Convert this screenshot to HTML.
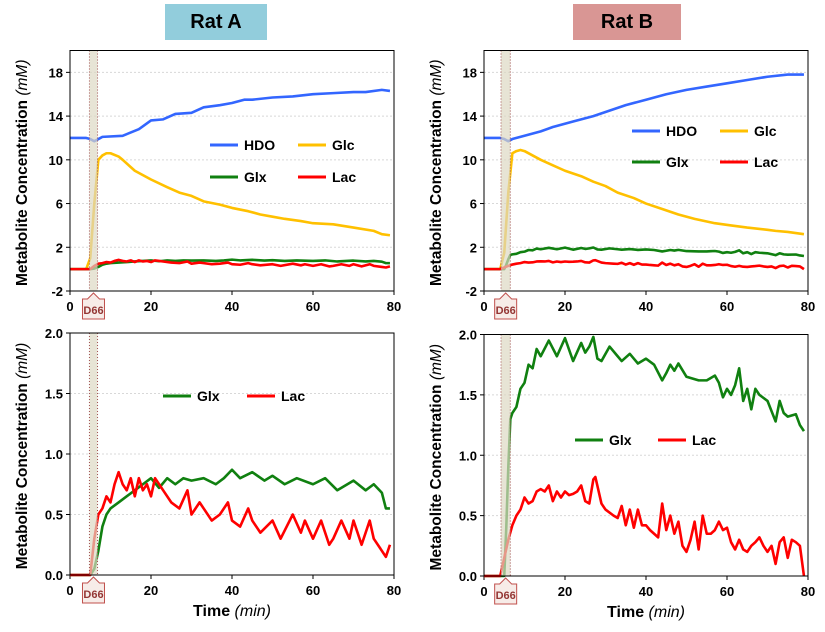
<!DOCTYPE html>
<html><head><meta charset="utf-8"><style>
body{margin:0;background:#fff;width:825px;height:632px;overflow:hidden;font-family:"Liberation Sans",Arial,sans-serif}
.t{position:absolute;font-weight:bold;font-size:20px;text-align:center;line-height:36px}
</style></head><body>
<div class="t" style="left:165px;top:4px;width:102px;background:#92CDDC">Rat A</div>
<div class="t" style="left:573px;top:4px;width:108px;background:#D99694">Rat B</div>
<svg id="s" width="825" height="632" style="position:absolute;left:0;top:0"></svg>
<script>
// Rat A data
const aHdoT=[0,4,5,6,7,8,13,17,20,23,26,30,33,37,40,43,45,50,55,60,65,70,73,77,79];
const aHdoV=[12,12,11.9,11.7,11.9,12.1,12.2,12.8,13.6,13.7,14.2,14.3,14.8,15,15.2,15.5,15.5,15.7,15.8,16,16.1,16.2,16.2,16.4,16.3];
const aGlcT=[0,4,5,6,7,8,9,10,12,13,16,18,20,24,27,30,33,37,40,44,47,50,53,57,60,65,70,75,77,79];
const aGlcV=[0,0,1,6,10,10.4,10.6,10.6,10.3,10,9,8.6,8.2,7.5,7,6.7,6.2,5.9,5.6,5.3,5,4.8,4.6,4.4,4.2,4.1,3.8,3.5,3.2,3.1];
const aGlxT=[0,5,6,7,8,9,10,12,14,16,18,20,22,24,26,28,30,33,36,38,40,42,45,48,50,53,56,60,63,66,70,73,75,77,78,79];
const aGlxV=[0,0,0.05,0.2,0.4,0.5,0.55,0.6,0.65,0.7,0.75,0.8,0.72,0.8,0.75,0.8,0.78,0.8,0.75,0.8,0.87,0.8,0.85,0.78,0.82,0.75,0.8,0.75,0.8,0.7,0.78,0.7,0.75,0.68,0.55,0.55];
const aLacT=[0,5,6,7,8,9,10,11,12,13,14,15,16,17,18,19,20,21,22,23,25,27,29,30,32,33,35,37,39,40,42,44,45,47,50,52,55,57,58,60,62,64,65,67,69,70,72,74,75,77,78,79];
const aLacV=[0,0,0.3,0.5,0.55,0.65,0.6,0.75,0.85,0.75,0.7,0.8,0.65,0.8,0.7,0.75,0.65,0.8,0.75,0.7,0.6,0.55,0.7,0.5,0.6,0.55,0.45,0.5,0.6,0.45,0.4,0.55,0.45,0.35,0.45,0.3,0.5,0.35,0.45,0.3,0.45,0.25,0.3,0.45,0.3,0.45,0.25,0.45,0.3,0.2,0.15,0.25];
// Rat B data
const bHdoT=[0,4,5,6,7,10,14,17,22,27,31,35,40,45,50,55,60,65,70,75,79];
const bHdoV=[12,12,11.9,11.7,11.9,12.2,12.6,13,13.5,14,14.5,15,15.5,16,16.4,16.7,17,17.3,17.6,17.8,17.8];
const bGlcT=[0,4,5,6,7,8,9,10,12,14,17,20,24,27,30,33,37,40,44,48,52,57,61,65,70,72,75,79];
const bGlcV=[0,0,1.5,7,10.6,10.8,10.9,10.8,10.4,10,9.5,9,8.5,8,7.6,7,6.5,6,5.5,5,4.6,4.2,4,3.8,3.6,3.5,3.4,3.2];
const bGlxT=[0,5,5.5,6,6.5,7,8,9,10,11,12,13,14,16,18,20,22,24,25,26,27,28,29,31,33,34,36,38,40,42,44,45,46,47,48,50,53,55,56,57,58,59,60,61,62,63,64,65,66,67,68,70,72,73,74,75,77,78,79];
const bGlxV=[0,0,0.4,0.9,1.3,1.35,1.4,1.55,1.6,1.75,1.72,1.88,1.82,1.95,1.82,1.97,1.78,1.93,1.85,1.9,1.98,1.8,1.78,1.9,1.82,1.78,1.84,1.76,1.8,1.75,1.62,1.68,1.75,1.7,1.76,1.65,1.62,1.62,1.64,1.66,1.6,1.48,1.55,1.5,1.58,1.72,1.45,1.55,1.38,1.55,1.5,1.45,1.28,1.45,1.35,1.32,1.34,1.25,1.2];
const bLacT=[0,4,5,6,7,8,9,10,11,12,13,14,15,16,17,18,19,20,21,22,23,24,25,26,27,27.5,29,30,32,33,34,35,36,37,38,39,40,41,42,43,44,45,46,47,48,49,50,51,52,53,54,55,56,57,58,59,60,61,62,63,64,65,66,67,68,69,70,71,72,73,74,75,76,77,78,79];
const bLacV=[0,0,0.15,0.3,0.42,0.5,0.55,0.65,0.6,0.62,0.7,0.72,0.7,0.75,0.62,0.7,0.65,0.7,0.67,0.68,0.7,0.75,0.62,0.6,0.8,0.82,0.6,0.55,0.5,0.48,0.58,0.42,0.55,0.4,0.55,0.42,0.42,0.38,0.35,0.32,0.6,0.38,0.5,0.35,0.45,0.25,0.2,0.3,0.45,0.22,0.5,0.35,0.35,0.38,0.45,0.38,0.4,0.28,0.22,0.3,0.22,0.2,0.25,0.28,0.32,0.25,0.2,0.25,0.1,0.28,0.32,0.15,0.3,0.28,0.25,0];
const topTicks=[-2,2,6,10,14,18];
const botTicks=[0.0,0.5,1.0,1.5,2.0];
const xTicks=[0,20,40,60,80];
const NS='http://www.w3.org/2000/svg';
const svg=document.getElementById('s');
function el(tag,attrs,parent){const e=document.createElementNS(NS,tag);for(const k in attrs)e.setAttribute(k,attrs[k]);(parent||svg).appendChild(e);return e;}
function panel(id,x0,x1,y0,y1,ymin,ymax,ticks,dec,series,legend,shade,timeLabel){
  const g=el('g',{});
  
  
  const X=t=>x0+(t/80)*(x1-x0), Y=v=>y0-(v-ymin)/(ymax-ymin)*(y0-y1);
  ticks.forEach(v=>{
    if(v!==ymin){const l=el('line',{x1:x0,x2:x1,y1:Y(v),y2:Y(v),stroke:'#d8d8d8','stroke-dasharray':'2,2'},g);}
    const tx=el('text',{x:x0-7,y:Y(v)+5,'text-anchor':'end','font-size':'13','font-weight':'bold'},g);tx.textContent=v.toFixed(dec);
    
    el('line',{x1:x0-4,x2:x0,y1:Y(v),y2:Y(v),stroke:'#000'},g);
  });
  xTicks.forEach(t=>{
    const tx=el('text',{x:X(t),y:y0+20,'text-anchor':'middle','font-size':'13','font-weight':'bold'},g);tx.textContent=t;
    
    el('line',{x1:X(t),x2:X(t),y1:y0,y2:y0+4,stroke:'#000'},g);
  });
  series.forEach(s=>{
    const p=el('polyline',{points:s.t.map((t,i)=>X(t)+','+Y(s.v[i])).join(' '),fill:'none',stroke:s.c,'stroke-width':2.6,'stroke-linejoin':'round'},g);
    
  });
  const sh=el('rect',{x:X(shade[0]),y:y1,width:X(shade[1])-X(shade[0]),height:y0-y1,fill:'#ddd9c3','fill-opacity':0.7},g);
  
  [shade[0],shade[1]].forEach(t=>el('line',{x1:X(t),x2:X(t),y1:y1,y2:y0,stroke:'#a05050','stroke-dasharray':'1,2'},g));
  const fr=el('rect',{x:x0,y:y1,width:x1-x0,height:y0-y1,fill:'none',stroke:'#000'},g);
  
  legend.forEach(L=>{
    const lg=el('g',{},g);
    el('line',{x1:L.x,x2:L.x+28,y1:L.y,y2:L.y,stroke:L.c,'stroke-width':3},lg);
    const tx=el('text',{x:L.x+34,y:L.y+5,'font-size':'14','font-weight':'bold'},lg);tx.textContent=L.n;
  });
  const mx=(X(shade[0])+X(shade[1]))/2;
  const mk=el('g',{},g);
  el('path',{d:`M${mx} ${y0+2} L${mx+6} ${y0+8} L${mx+11} ${y0+8} L${mx+11} ${y0+28} L${mx-11} ${y0+28} L${mx-11} ${y0+8} L${mx-6} ${y0+8} Z`,fill:'#f7ece8',stroke:'#c0504d'},mk);
  const dt=el('text',{x:mx,y:y0+23,'text-anchor':'middle','font-size':'11','font-weight':'bold',fill:'#943634'},mk);dt.textContent='D66';
  const cy=(y0+y1)/2;
  const yl=el('text',{x:0,y:0,transform:`translate(${x0-43},${cy+2}) rotate(-90)`,'text-anchor':'middle','font-size':'15.5','font-weight':'bold'},g);
  yl.innerHTML='Metabolite Concentration <tspan font-style="italic" font-weight="normal">(mM)</tspan>';
  
  if(timeLabel){const xl=el('text',{x:(x0+x1)/2,y:y0+41,'text-anchor':'middle','font-size':'16','font-weight':'bold'},g);
    xl.innerHTML='Time <tspan font-style="italic" font-weight="normal">(min)</tspan>';
    }
}
const B='#3366ff',Y='#ffc000',G='#108010',R='#ff0000';
panel('panel-rat-a-top',70,394,291,50.5,-2,20,topTicks,0,
 [{n:'glc',t:aGlcT,v:aGlcV,c:Y},{n:'hdo',t:aHdoT,v:aHdoV,c:B},{n:'glx',t:aGlxT,v:aGlxV,c:G},{n:'lac',t:aLacT,v:aLacV,c:R}],
 [{n:'HDO',x:210,y:145,c:B},{n:'Glc',x:298,y:145,c:Y},{n:'Glx',x:210,y:177,c:G},{n:'Lac',x:298,y:177,c:R}],[4.8,6.8],false);
panel('panel-rat-b-top',484,808,291,50.5,-2,20,topTicks,0,
 [{n:'glc',t:bGlcT,v:bGlcV,c:Y},{n:'hdo',t:bHdoT,v:bHdoV,c:B},{n:'glx',t:bGlxT,v:bGlxV,c:G},{n:'lac',t:bLacT,v:bLacV,c:R}],
 [{n:'HDO',x:632,y:131,c:B},{n:'Glc',x:720,y:131,c:Y},{n:'Glx',x:632,y:162,c:G},{n:'Lac',x:720,y:162,c:R}],[4.2,6.5],false);
panel('panel-rat-a-bottom',70,394,575,333,0,2,botTicks,1,
 [{n:'glx',t:aGlxT,v:aGlxV,c:G},{n:'lac',t:aLacT,v:aLacV,c:R}],
 [{n:'Glx',x:163,y:396,c:G},{n:'Lac',x:247,y:396,c:R}],[4.8,6.8],true);
panel('panel-rat-b-bottom',484,808,576,334.5,0,2,botTicks,1,
 [{n:'glx',t:bGlxT,v:bGlxV,c:G},{n:'lac',t:bLacT,v:bLacV,c:R}],
 [{n:'Glx',x:575,y:440,c:G},{n:'Lac',x:658,y:440,c:R}],[4.2,6.5],true);
</script>
</body></html>
